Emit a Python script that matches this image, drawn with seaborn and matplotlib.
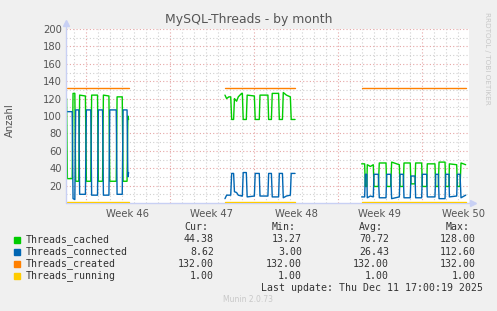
import numpy as np
import pandas as pd
import matplotlib
matplotlib.use("Agg")
import matplotlib.pyplot as plt
import seaborn as sns
from matplotlib.patches import Rectangle

# ---------------- data (x in days since Monday of week 46) ----------------
seg1_days = [-1.62, -1.55, -1.15, -1.08, -0.93, -0.86, -0.60, -0.53, -0.05, 0.03,
             0.40, 0.47, 0.96, 1.03, 1.38, 1.45, 1.91, 1.98, 2.52, 2.59,
             3.02, 3.09, 3.42, 3.49, 3.55]
seg1_cached = [120, 28, 28, 126, 126, 25, 25, 124, 123, 25,
               25, 124, 124, 25, 25, 124, 123, 25, 25, 122,
               122, 25, 25, 100, 96]
seg1_connected = [105, 105, 105, 5, 4, 107, 107, 10, 10, 107,
                  107, 9, 9, 107, 107, 9, 9, 107, 107, 10,
                  10, 107, 107, 30, 35]

seg2_days = [11.58, 11.72, 11.90, 12.06, 12.14, 12.30, 12.37, 12.55, 12.69, 12.97,
             13.03, 13.10, 13.36, 13.43, 14.03, 14.10, 14.44, 14.50, 15.16, 15.22,
             15.45, 15.52, 16.05, 16.11, 16.37, 16.44, 16.70, 17.03, 17.10, 17.42]
seg2_cached = [124, 120, 122, 122, 96, 96, 120, 117, 122, 126,
               126, 96, 96, 124, 123, 96, 96, 124, 124, 96,
               96, 126, 126, 96, 96, 127, 124, 122, 96, 96]
seg2_connected = [5, 9, 9, 9, 34, 34, 13, 12, 9, 8,
                  8, 35, 35, 7, 8, 34, 34, 8, 8, 34,
                  34, 7, 7, 34, 34, 6, 8, 9, 34, 34]

seg3_days = [22.97, 23.22, 23.28, 23.40, 23.44, 23.70, 23.94, 24.00, 24.36, 24.44,
             25.00, 25.06, 25.39, 25.47, 26.11, 26.17, 26.44, 26.50, 27.02, 27.08,
             27.42, 27.47, 27.97, 28.03, 28.39, 28.44, 29.08, 29.14, 29.36, 29.42,
             29.92, 29.97, 30.25, 30.28, 30.89, 30.95, 31.17, 31.25, 31.64]
seg3_cached = [45, 45, 19, 19, 44, 42, 44, 19, 19, 46,
               46, 19, 19, 47, 44, 19, 19, 46, 46, 22,
               22, 46, 46, 19, 19, 45, 45, 19, 19, 47,
               47, 19, 19, 45, 44, 19, 19, 46, 44]
seg3_connected = [7, 7, 33, 33, 6, 8, 7, 33, 33, 6,
                  6, 33, 33, 5, 7, 33, 33, 6, 6, 31,
                  31, 6, 6, 33, 33, 7, 7, 33, 33, 5,
                  5, 33, 33, 7, 8, 33, 33, 6, 9]

created_value = 132.0
running_value = 1.0

week_labels = ["Week 46", "Week 47", "Week 48", "Week 49", "Week 50"]
y_tick_values = [20, 40, 60, 80, 100, 120, 140, 160, 180, 200]

series_names = ["Threads_cached", "Threads_connected", "Threads_created", "Threads_running"]
series_colors = ["#00CC00", "#0066B3", "#FF8000", "#FFCC00"]
cur_vals = ["44.38", "8.62", "132.00", "1.00"]
min_vals = ["13.27", "3.00", "132.00", "1.00"]
avg_vals = ["70.72", "26.43", "132.00", "1.00"]
max_vals = ["128.00", "112.60", "132.00", "1.00"]

# ---------------- build long table ----------------
rows = []
segs = [(seg1_days, seg1_cached, seg1_connected),
        (seg2_days, seg2_cached, seg2_connected),
        (seg3_days, seg3_cached, seg3_connected)]
for si, (d, c, n) in enumerate(segs):
    for x, v in zip(d, c):
        rows.append((x, v, "Threads_cached", si))
    for x, v in zip(d, n):
        rows.append((x, v, "Threads_connected", si))
    for x in (d[0], d[-1]):
        rows.append((x, created_value, "Threads_created", si))
        rows.append((x, running_value, "Threads_running", si))
df = pd.DataFrame(rows, columns=["day", "value", "series", "seg"])

# ---------------- figure ----------------
W, H = 497, 311
sns.set_style("white")
plt.rcParams["font.family"] = ["DejaVu Sans"]
fig = plt.figure(figsize=(W / 100, H / 100), dpi=100, facecolor="#F0F0F0")

def fx(x):
    return x / W

def fy(y):
    return 1 - y / H

L, R, T, B = 66, 469, 29, 203
ax = fig.add_axes([fx(L), fy(B), (R - L) / W, (B - T) / H])
ax.set_facecolor("white")
xmin, xmax = (L - 86) / 12, (R - 86) / 12
ax.set_xlim(xmin, xmax)
ax.set_ylim(0, 200)

# grid
for d in range(-1, 33):
    major = d % 7 == 0
    ax.axvline(d, color="#E6A6A6" if major else "#D0D0D0", lw=0.8,
               ls=(0, (1, 2)), zorder=0)
for v in range(10, 201, 10):
    major = v % 20 == 0
    ax.axhline(v, color="#E6A6A6" if major else "#D0D0D0", lw=0.8,
               ls=(0, (1, 2)), zorder=0)

for name, col in zip(series_names, series_colors):
    sub = df[df["series"] == name]
    sns.lineplot(data=sub, x="day", y="value", units="seg", estimator=None,
                 sort=False, color=col, lw=1.0, ax=ax, legend=False, zorder=3)

for s in ax.spines.values():
    s.set_visible(False)
axis_col = "#C8D0F4"
ax.plot([xmin, xmin], [0, 207], color=axis_col, lw=1.0, clip_on=False, zorder=4)
ax.plot([xmin, 32.25], [0, 0], color=axis_col, lw=1.0, clip_on=False, zorder=2)
ax.plot([xmin], [207], marker="^", color=axis_col, ms=4.5, clip_on=False, zorder=4)
ax.plot([32.25], [0], marker=">", color=axis_col, ms=4.5, clip_on=False, zorder=4)

ax.set_yticks(y_tick_values)
ax.set_yticklabels([str(v) for v in y_tick_values])
ax.set_xticks([3.5 + 7 * i for i in range(len(week_labels))])
ax.set_xticklabels(week_labels)
ax.tick_params(axis="both", length=0, labelsize=7.2, labelcolor="#555555")
ax.tick_params(axis="y", pad=3)
ax.tick_params(axis="x", pad=4)
ax.set_xlabel("")
ax.set_ylabel("")

# titles / side texts
fig.text(fx(248.5), fy(19), "MySQL-Threads - by month", ha="center", va="center",
         fontsize=8.9, color="#555555")
fig.text(fx(10), fy(120), "Anzahl", rotation=90, ha="center", va="center",
         fontsize=7.2, color="#555555")
fig.text(fx(487), fy(12), "RRDTOOL / TOBI OETIKER", rotation=270, ha="center", va="top",
         fontsize=5.2, color="#C8C8C8")

# legend table
mono = "DejaVu Sans Mono"
fs = 7.1
tcol = "#333333"
col_right = [214, 302, 389, 476]
headers = ["Cur:", "Min:", "Avg:", "Max:"]
for xr, h in zip(col_right, headers):
    fig.text(fx(xr - 6), fy(227), h, ha="right", va="center", family=mono,
             fontsize=fs, color=tcol)
row_y = [239.5, 252, 264, 276]
for i, name in enumerate(series_names):
    yy = row_y[i]
    fig.patches.append(Rectangle((fx(14), fy(yy + 3)), 6 / W, 6 / H,
                                 transform=fig.transFigure, color=series_colors[i]))
    fig.text(fx(26), fy(yy), name, ha="left", va="center", family=mono,
             fontsize=fs, color=tcol)
    for xr, vals in zip(col_right, (cur_vals, min_vals, avg_vals, max_vals)):
        fig.text(fx(xr), fy(yy), vals[i], ha="right", va="center", family=mono,
                 fontsize=fs, color=tcol)
fig.text(fx(483), fy(288), "Last update: Thu Dec 11 17:00:19 2025", ha="right",
         va="center", family=mono, fontsize=fs, color=tcol)
fig.text(fx(248), fy(299), "Munin 2.0.73", ha="center", va="center",
         fontsize=5.5, color="#C8C8C8")

fig.savefig("out.png", dpi=100, facecolor=fig.get_facecolor())
